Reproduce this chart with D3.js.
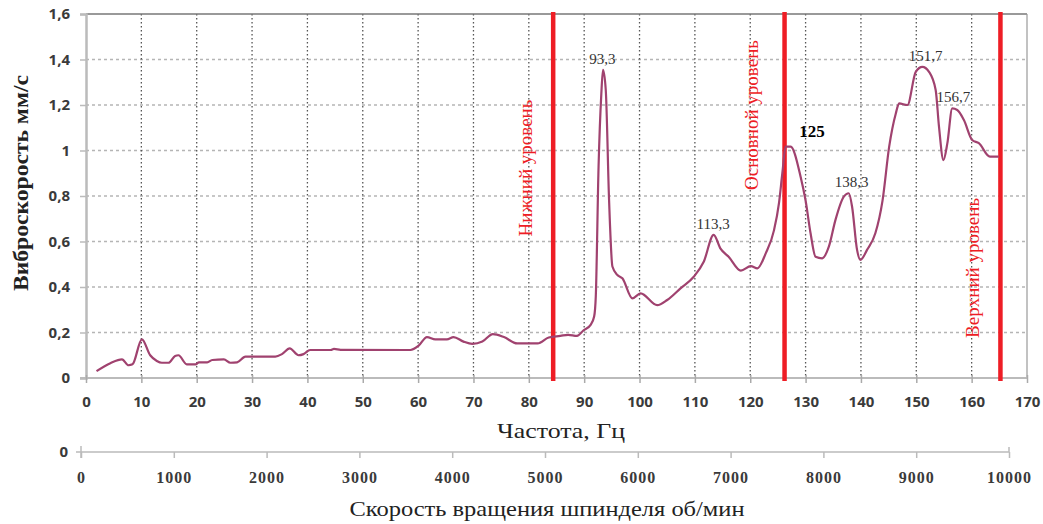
<!DOCTYPE html>
<html>
<head>
<meta charset="utf-8">
<script src="https://cdn.jsdelivr.net/npm/d3@7"></script>
<style>
  body { margin: 0; background: #fff; }
  svg { display: block; }
</style>
</head>
<body>
<div id="chart"></div>
<script>
// spectrum: frequency (Hz) and vibration velocity (mm/s)
var freq = [1.9, 4.4, 6.5, 7.7, 8.4, 10.1, 11.6, 12.8, 13.7, 14.9, 16.1, 16.7, 18.2, 19.8, 20.4, 21.9, 22.8, 24.9, 26.1, 27.3, 28.8, 34.2, 35.4, 36.8, 38.4, 39.3, 40.5, 44.2, 44.8, 46, 58.6, 60.1, 61.6, 63.1, 65.2, 66.4, 68.2, 69.8, 71.6, 73.5, 75.5, 77.9, 81.6, 83.6, 85.7, 87.1, 88.7, 89.9, 91.2, 91.8, 92.1, 92.6, 93.1, 93.4, 93.9, 94.5, 95.1, 96, 96.9, 98.7, 100.2, 103.2, 105, 107.4, 109.8, 111.6, 113.4, 114.6, 116.1, 118.3, 120.1, 121.3, 122.8, 124.3, 125.2, 125.8, 126.4, 127.3, 129.1, 130, 130.9, 131.8, 133, 134.2, 135.4, 136.9, 137.8, 138.4, 139.3, 139.9, 141.1, 142.6, 143.9, 145.1, 146.3, 146.9, 148.4, 149.9, 151.1, 152.3, 153.5, 154.1, 154.9, 155.6, 156.5, 157.4, 158.6, 160.1, 161.3, 163.3, 164.9];
var velo = [0.03, 0.065, 0.082, 0.056, 0.06, 0.17, 0.10, 0.075, 0.067, 0.067, 0.097, 0.10, 0.06, 0.06, 0.069, 0.069, 0.079, 0.082, 0.067, 0.069, 0.094, 0.094, 0.105, 0.13, 0.10, 0.105, 0.123, 0.123, 0.128, 0.124, 0.123, 0.142, 0.18, 0.17, 0.17, 0.18, 0.16, 0.15, 0.16, 0.193, 0.18, 0.152, 0.152, 0.178, 0.185, 0.19, 0.185, 0.21, 0.235, 0.27, 0.36, 0.93, 1.25, 1.354, 1.266, 0.78, 0.49, 0.453, 0.438, 0.35, 0.372, 0.32, 0.343, 0.394, 0.445, 0.511, 0.629, 0.57, 0.533, 0.472, 0.492, 0.482, 0.548, 0.65, 0.77, 0.90, 1.017, 1.017, 0.885, 0.78, 0.636, 0.533, 0.526, 0.577, 0.695, 0.797, 0.812, 0.753, 0.563, 0.519, 0.563, 0.636, 0.78, 1.017, 1.163, 1.207, 1.2, 1.346, 1.368, 1.346, 1.266, 1.105, 0.958, 1.03, 1.185, 1.178, 1.134, 1.046, 1.032, 0.973, 0.973];

// peak annotations
var peakText = ["93,3", "113,3", "125", "138,3", "151,7", "156,7"];
var peakFreq = [93.3, 113.3, 125, 138.3, 151.7, 156.7];
var peakVal = [1.354, 0.629, 1.017, 0.812, 1.368, 1.185];

// level markers (red lines)
var levelName = ["Нижний уровень", "Основной уровень", "Верхний уровень"];
var levelFreq = [84.4, 126.2, 165.2];
var levelLabelVal = [0.923, 1.156, 0.484];

var xTicks = d3.range(0, 171, 10);
var yTicks = [0, 0.2, 0.4, 0.6, 0.8, 1.0, 1.2, 1.4, 1.6];
var rpmTicks = d3.range(0, 10001, 1000);

var width = 1043, height = 524;
var svg = d3.select('#chart').append('svg')
    .attr('width', width)
    .attr('height', height);

var x = d3.scaleLinear().domain([0, 170]).range([86, 1027]);
var y = d3.scaleLinear().domain([0, 1.6]).range([378, 14]);
var xr = d3.scaleLinear().domain([0, 10000]).range([81, 1009]);

var fmt = function(v) { return d3.format('.1f')(v).replace('.0', '').replace('.', ','); };

// grid
svg.append('g').selectAll('line.hg')
    .data(yTicks.slice(1, -1))
    .enter().append('line')
    .attr('x1', x(0)).attr('x2', x(170))
    .attr('y1', function(d) { return y(d); }).attr('y2', function(d) { return y(d); })
    .attr('stroke', '#b5b5b5').attr('stroke-width', 1.3)
    .attr('stroke-dasharray', '3,3');

svg.append('g').selectAll('line.vg')
    .data(xTicks.slice(1, -1))
    .enter().append('line')
    .attr('x1', function(d) { return x(d); }).attr('x2', function(d) { return x(d); })
    .attr('y1', y(1.6)).attr('y2', y(0))
    .attr('stroke', '#555').attr('stroke-width', 1.3)
    .attr('stroke-dasharray', '1.5,2.5');

// frame
svg.append('line').attr('x1', x(0)).attr('x2', x(170)).attr('y1', y(1.6)).attr('y2', y(1.6))
    .attr('stroke', '#777').attr('stroke-width', 1.5);
svg.append('line').attr('x1', x(170)).attr('x2', x(170)).attr('y1', y(1.6)).attr('y2', y(0))
    .attr('stroke', '#999').attr('stroke-width', 1.2);

// y axis
var yAxis = d3.axisLeft(y).tickValues(yTicks).tickFormat(fmt).tickSize(6).tickPadding(10);
var gy = svg.append('g').attr('transform', 'translate(' + x(0) + ',0)').call(yAxis);
gy.select('.domain').attr('stroke', '#bbb').attr('stroke-width', 2.5);
gy.selectAll('.tick line').attr('stroke', '#bbb').attr('stroke-width', 1.5);
gy.selectAll('text').attr('font-family', 'Open Sans, sans-serif').attr('font-weight', 'bold')
    .attr('font-size', 15).attr('fill', '#3a3a3a');

// x axis (frequency)
var xAxis = d3.axisBottom(x).tickValues(xTicks).tickSize(5).tickPadding(13);
var gx = svg.append('g').attr('transform', 'translate(0,' + y(0) + ')').call(xAxis);
gx.select('.domain').attr('stroke', '#bbb').attr('stroke-width', 2).attr('d', 'M' + (x(0) - 6) + ',0H' + x(170));
gx.selectAll('.tick line').attr('stroke', '#aaa').attr('stroke-width', 1.5).attr('y1', -3);
gx.selectAll('text').attr('font-family', 'Open Sans, sans-serif').attr('font-weight', 'bold')
    .attr('font-size', 15).attr('fill', '#3a3a3a');

// second axis (spindle speed)
var rAxis = d3.axisBottom(xr).tickValues(rpmTicks).tickFormat(d3.format('d')).tickSize(6).tickPadding(14);
var gr = svg.append('g').attr('transform', 'translate(0,452)').call(rAxis);
gr.select('.domain').attr('stroke', '#bbb').attr('stroke-width', 1.5).attr('d', 'M' + (xr(0) - 5) + ',0H' + xr(10000) + 'V-5');
gr.selectAll('.tick line').attr('stroke', '#bbb').attr('stroke-width', 1.5);
gr.append('line').attr('x1', xr(0)).attr('x2', xr(0)).attr('y1', -6).attr('y2', 6)
    .attr('stroke', '#bbb').attr('stroke-width', 1.5);
gr.selectAll('text').attr('font-family', 'Liberation Serif, serif').attr('font-weight', 'bold')
    .attr('font-size', 16).attr('fill', '#3a3a3a').attr('letter-spacing', 1);
svg.append('text').attr('x', 68).attr('y', 457).attr('text-anchor', 'end')
    .attr('font-family', 'Open Sans, sans-serif').attr('font-weight', 'bold')
    .attr('font-size', 15).attr('fill', '#3a3a3a').text('0');

// level lines
svg.append('g').selectAll('line.lvl')
    .data(levelFreq)
    .enter().append('line')
    .attr('x1', function(d) { return x(d); }).attr('x2', function(d) { return x(d); })
    .attr('y1', y(1.6) - 2).attr('y2', y(0) + 3)
    .attr('stroke', '#ee1d25').attr('stroke-width', 4.5);

var lvlShift = [-21, -27, -21];
svg.append('g').selectAll('text.lvl')
    .data(levelName)
    .enter().append('text')
    .attr('transform', function(d, i) {
        return 'translate(' + (x(levelFreq[i]) + lvlShift[i]) + ',' + y(levelLabelVal[i]) + ')rotate(-90)';
    })
    .attr('text-anchor', 'middle')
    .attr('font-family', 'Liberation Serif, serif')
    .attr('font-size', 19)
    .attr('fill', '#ee1d25')
    .text(function(d) { return d; });

// spectrum line
var pts = freq.map(function(f, i) { return [f, velo[i]]; });
var line = d3.line()
    .x(function(d) { return x(d[0]); })
    .y(function(d) { return y(d[1]); })
    .curve(d3.curveMonotoneX);
svg.append('path')
    .datum(pts)
    .attr('d', line)
    .attr('fill', 'none')
    .attr('stroke', '#a0426f')
    .attr('stroke-width', 2.2);

// peak labels
svg.append('g').selectAll('text.pk')
    .data(peakText)
    .enter().append('text')
    .attr('x', function(d, i) { return i == 2 ? x(peakFreq[i]) + 34 : x(peakFreq[i]); })
    .attr('y', function(d, i) { return i == 2 ? y(peakVal[i]) - 10 : y(peakVal[i]) - 6; })
    .attr('text-anchor', 'middle')
    .attr('font-family', 'Liberation Serif, serif')
    .attr('font-weight', function(d, i) { return i == 2 ? 'bold' : 'normal'; })
    .attr('font-size', function(d, i) { return i == 2 ? 17 : 15; })
    .attr('fill', function(d, i) { return i == 2 ? '#000' : '#333'; })
    .text(function(d) { return d; });

// axis titles
svg.append('text')
    .attr('transform', 'translate(28,183)rotate(-90)')
    .attr('text-anchor', 'middle')
    .attr('font-family', 'Liberation Serif, serif')
    .attr('font-weight', 'bold')
    .attr('font-size', 20)
    .attr('fill', '#222')
    .attr('textLength', 216)
    .attr('lengthAdjust', 'spacingAndGlyphs')
    .text('Виброскорость мм/с');

svg.append('text')
    .attr('x', 561).attr('y', 438)
    .attr('text-anchor', 'middle')
    .attr('font-family', 'Liberation Serif, serif')
    .attr('font-size', 22)
    .attr('fill', '#222')
    .attr('textLength', 128)
    .attr('lengthAdjust', 'spacingAndGlyphs')
    .text('Частота, Гц');

svg.append('text')
    .attr('x', 547).attr('y', 516)
    .attr('text-anchor', 'middle')
    .attr('font-family', 'Liberation Serif, serif')
    .attr('font-size', 21)
    .attr('fill', '#222')
    .attr('textLength', 395)
    .attr('lengthAdjust', 'spacingAndGlyphs')
    .text('Скорость вращения шпинделя об/мин');
</script>
</body>
</html>
